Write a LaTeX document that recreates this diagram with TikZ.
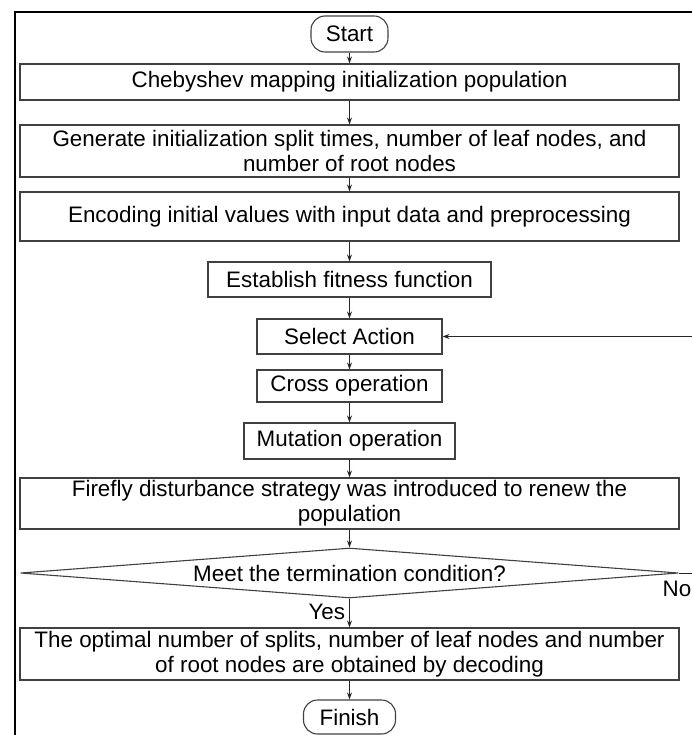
\documentclass[tikz,border=0pt]{standalone}
\usepackage{fontspec}
\setmainfont{Liberation Sans}
\usetikzlibrary{shapes.geometric,arrows.meta}

\begin{document}
\begin{tikzpicture}[x=1pt,y=-1pt,
  font=\fontsize{22.4}{25}\selectfont,
  box/.style={draw=black!75,line width=1.1pt,inner sep=0pt,align=center},
  term/.style={box,rounded corners=14pt},
  decis/.style={draw=black!75,line width=1.1pt,diamond,aspect=13.2,inner sep=0pt,
    minimum width=658,minimum height=50},
  flow/.style={-{Stealth[length=7pt,width=5pt]},line width=0.75pt,draw=black!85}]
\useasboundingbox (0,0) rectangle (692,735);
\clip (0,0) rectangle (692,735);
% outer frame
\draw[line width=1.6pt] (14.7,12) rectangle (730,780);
% steps
\node[term,minimum width=77,minimum height=36] (start) at (349.5,34) {Start};
\node[box,minimum width=659,minimum height=36] (cheb) at (349.5,82) {Chebyshev mapping initialization population};
\node[box,minimum width=659,minimum height=52] (gen) at (349.5,151) {Generate initialization split times, number of leaf nodes, and\\number of root nodes};
\node[box,minimum width=659,minimum height=49] (enc) at (349.5,216.5) {Encoding initial values with input data and preprocessing};
\node[box,minimum width=283,minimum height=35] (fit) at (349.5,279.5) {Establish fitness function};
\node[box,minimum width=185,minimum height=35] (sel) at (349.5,336.5) {Select Action};
\node[box,minimum width=185,minimum height=32] (cross) at (349.5,386) {Cross operation};
\node[box,minimum width=211,minimum height=36] (mut) at (349.5,441) {Mutation operation};
\node[box,minimum width=659,minimum height=51] (fire) at (349.5,503.5) {Firefly disturbance strategy was introduced to renew the\\population};
\node[decis] (cond) at (349.5,573) {Meet the termination condition?};
\node[box,minimum width=659,minimum height=52] (opt) at (349.5,654) {The optimal number of splits, number of leaf nodes and number\\of root nodes are obtained by decoding};
\node[term,minimum width=92,minimum height=34] (finish) at (349.5,717) {Finish};
% arrows
\draw[flow] (start) -- (cheb);
\draw[flow] (cheb) -- (gen);
\draw[flow] (gen) -- (enc);
\draw[flow] (enc) -- (fit);
\draw[flow] (fit) -- (sel);
\draw[flow] (sel) -- (cross);
\draw[flow] (cross) -- (mut);
\draw[flow] (mut) -- (fire);
\draw[flow] (fire) -- (cond);
\draw[flow] (cond) -- node[left,pos=0.45,inner sep=4pt] (yes) {Yes} (opt);
\draw[flow] (opt) -- (finish);
% loop back
\coordinate (back) at (720,573);
\node[below,xshift=-2pt,yshift=-5pt] (no) at (cond.east) {No};
\draw[flow] (cond.east) -- (back) |- (sel.east);
\end{tikzpicture}
\end{document}
